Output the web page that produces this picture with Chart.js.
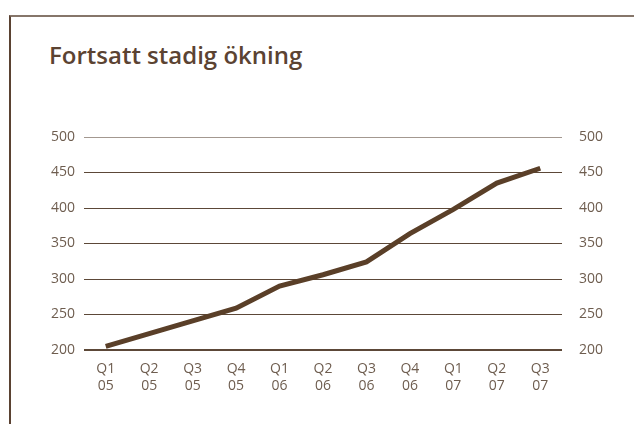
<!DOCTYPE html>
<html>
<head>
<meta charset="utf-8">
<script src="https://cdn.jsdelivr.net/npm/chart.js@4/dist/chart.umd.min.js"></script>
<style>
  html, body { margin: 0; padding: 0; background: #fff; }
  #wrap { position: relative; width: 634px; height: 424px; overflow: hidden; }
  #frame {
    position: absolute; left: 9px; top: 15px; width: 640px; height: 420px;
    border-top: 2px solid #86766a; border-left: 2px solid #5a4232;
  }
  #title {
    position: absolute; left: 49px; top: 38px; margin: 0;
    font: 600 24px "Open Sans", sans-serif; color: #5b4332;
  }
  canvas { position: absolute; left: 0; top: 0; }
</style>
</head>
<body>
<div id="wrap">
  <div id="frame"></div>
  <h1 id="title">Fortsatt stadig ökning</h1>
  <canvas id="chart" width="634" height="424"></canvas>
</div>
<script>
const quarters = ['Q1', 'Q2', 'Q3', 'Q4', 'Q1', 'Q2', 'Q3', 'Q4', 'Q1', 'Q2', 'Q3'];
const years = ['05', '05', '05', '05', '06', '06', '06', '06', '07', '07', '07'];
const values = [205, 223, 241, 259, 290, 306, 324, 364, 398, 435, 456];
const yTicks = [200, 250, 300, 350, 400, 450, 500];

const labels = quarters.map((q, i) => [q, years[i]]);
const tickColor = '#6e5d4f';
const tickFont = { family: 'Open Sans', size: 14 };

function gridColor(ctx) {
  return ctx.tick && ctx.tick.value === 500 ? '#a39890' : '#5c4838';
}
function gridWidth(ctx) {
  return ctx.tick && ctx.tick.value === 200 ? 2 : 1;
}

const yCommon = {
  min: 200,
  max: 500,
  afterBuildTicks: axis => { axis.ticks = yTicks.map(v => ({ value: v })); },
  border: { display: false },
  ticks: { color: tickColor, font: tickFont, padding: 9 }
};

new Chart(document.getElementById('chart'), {
  type: 'line',
  data: {
    labels: labels,
    datasets: [{
      data: values,
      borderColor: '#5a3f28',
      borderWidth: 5,
      pointRadius: 0,
      tension: 0,
      borderCapStyle: 'butt',
      yAxisID: 'y'
    }]
  },
  options: {
    responsive: false,
    animation: false,
    devicePixelRatio: 1,
    layout: { padding: { top: 137, left: 0, right: 0, bottom: 0 } },
    plugins: { legend: { display: false }, tooltip: { enabled: false } },
    scales: {
      x: {
        offset: true,
        grid: { display: false },
        border: { display: false },
        ticks: { color: tickColor, font: { family: 'Open Sans', size: 14, lineHeight: 1.2 }, padding: 3, maxRotation: 0 },
        afterFit: axis => { axis.height = 74; }
      },
      y: Object.assign({}, yCommon, {
        position: 'left',
        grid: { color: gridColor, lineWidth: gridWidth, drawTicks: false },
        afterFit: axis => { axis.width = 84; }
      }),
      y2: Object.assign({}, yCommon, {
        position: 'right',
        grid: { display: false },
        afterFit: axis => { axis.width = 72; }
      })
    }
  }
});
</script>
</body>
</html>
